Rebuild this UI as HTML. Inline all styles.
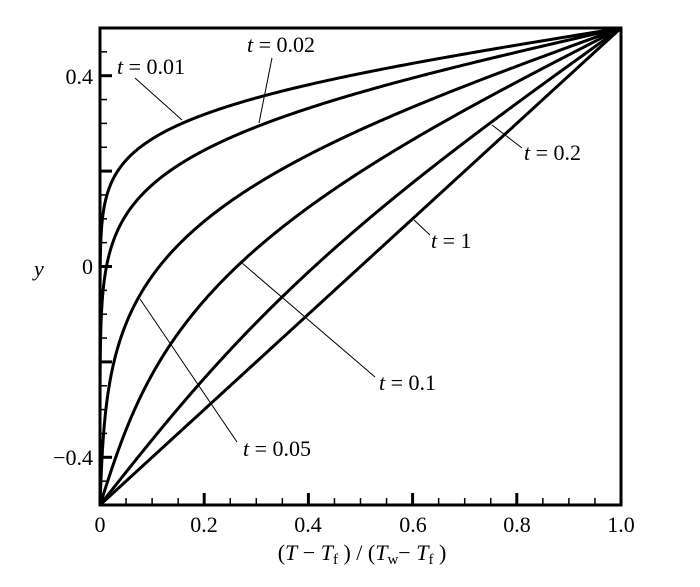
<!DOCTYPE html>
<html><head><meta charset="utf-8">
<style>
html,body{margin:0;padding:0;background:#fff;}
svg text{font-family:"Liberation Serif",serif;fill:#000;}
</style></head>
<body>
<svg id="s" width="700" height="582" viewBox="0 0 700 582" xmlns="http://www.w3.org/2000/svg">
<g id="curves" fill="none" stroke="#000" stroke-width="3" stroke-linejoin="round"></g>
<rect x="100" y="28" width="521" height="477" fill="none" stroke="#000" stroke-width="3"/>
<g id="ticks" stroke="#000"></g>
<g font-size="22">
<text x="100" y="532" text-anchor="middle">0</text>
<text x="204" y="532" text-anchor="middle">0.2</text>
<text x="308" y="532" text-anchor="middle">0.4</text>
<text x="413" y="532" text-anchor="middle">0.6</text>
<text x="517" y="532" text-anchor="middle">0.8</text>
<text x="621" y="532" text-anchor="middle">1.0</text>
<text x="93" y="84" text-anchor="end">0.4</text>
<text x="93" y="274" text-anchor="end">0</text>
<text x="93" y="465" text-anchor="end">−0.4</text>
<text x="34" y="276" font-style="italic">y</text>
<text x="362" y="560" text-anchor="middle">(<tspan font-style="italic">T</tspan> − <tspan font-style="italic">T</tspan><tspan font-size="15" dy="4">f</tspan><tspan dy="-4"> ) / (</tspan><tspan font-style="italic">T</tspan><tspan font-size="15" dy="4">w</tspan><tspan dy="-4">− </tspan><tspan font-style="italic">T</tspan><tspan font-size="15" dy="4">f</tspan><tspan dy="-4"> )</tspan></text>
</g>
<g stroke="#000" stroke-width="1">
<line x1="135" y1="78" x2="182" y2="120"/>
<line x1="272" y1="58" x2="259" y2="123"/>
<line x1="492" y1="125" x2="522" y2="148"/>
<line x1="414" y1="220" x2="430" y2="235"/>
<line x1="242" y1="263" x2="375" y2="377"/>
<line x1="140" y1="299" x2="237" y2="442"/>
</g>
<g font-size="22">
<text x="117" y="74"><tspan font-style="italic">t</tspan> = 0.01</text>
<text x="247" y="52"><tspan font-style="italic">t</tspan> = 0.02</text>
<text x="524" y="160"><tspan font-style="italic">t</tspan> = 0.2</text>
<text x="431" y="248"><tspan font-style="italic">t</tspan> = 1</text>
<text x="379" y="390"><tspan font-style="italic">t</tspan> = 0.1</text>
<text x="243" y="456"><tspan font-style="italic">t</tspan> = 0.05</text>
</g>
</svg>
<script>
(function(){
var X0=100,XS=521,Y0=266.5,YS=477;
function px(x){return X0+x*XS;} function py(y){return Y0-y*YS;}
var ts=[0.01,0.02,0.05,0.1,0.2,1];
var g=document.getElementById('curves');var NS="http://www.w3.org/2000/svg";
ts.forEach(function(t){
 var d="";
 for(var i=0;i<=400;i++){
  var eta=i/400, th=eta;
  for(var n=1;n<=300;n++){
   var e=Math.exp(-n*n*Math.PI*Math.PI*t); if(e<1e-12)break;
   th+=2/(n*Math.PI)*(n%2?-1:1)*Math.sin(n*Math.PI*eta)*e;
  }
  if(i==0)th=0; if(i==400)th=1;
  if(th<0)th=0;
  d+=(i?"L":"M")+px(th).toFixed(2)+","+py(eta-0.5).toFixed(2);
 }
 var p=document.createElementNS(NS,'path');p.setAttribute('d',d);g.appendChild(p);
});
var tk=document.getElementById('ticks');
function ln(x1,y1,x2,y2,w){var l=document.createElementNS(NS,'line');l.setAttribute('x1',x1);l.setAttribute('y1',y1);l.setAttribute('x2',x2);l.setAttribute('y2',y2);l.setAttribute('stroke-width',w);tk.appendChild(l);}
for(var i=0;i<=20;i++){var x=px(i*0.05);var maj=(i%4==0);ln(x,505,x,505-(maj?12:7),maj?3:1.5);}
for(var j=-10;j<=10;j++){var y=py(j*0.05);var maj=(j%4==0);ln(100,y,100+(maj?12:7),y,maj?3:1.5);}
})();
</script>
</body></html>
